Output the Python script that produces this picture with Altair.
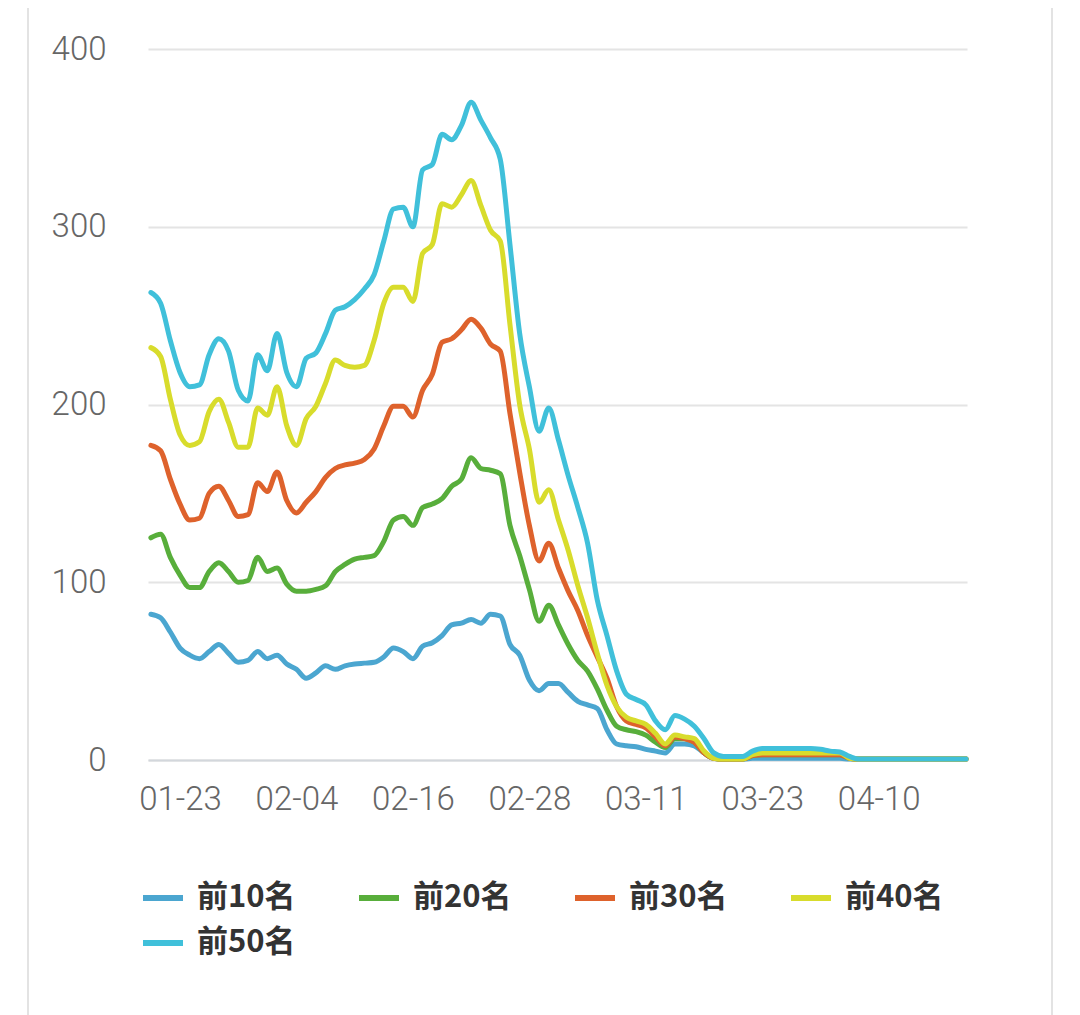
import altair as alt
import pandas as pd

series_names = ["前10名", "前20名", "前30名", "前40名", "前50名"]
series_colors = ["#4ba6d0", "#58ae3b", "#de622c", "#d8dc2c", "#40c0da"]

tick_index = [3, 15, 27, 39, 51, 63, 75]
tick_labels = ["01-23", "02-04", "02-16", "02-28", "03-11", "03-23", "04-10"]

top10 = [82, 80, 72, 63, 59, 57, 61, 65, 60, 55,
         56, 61, 57, 59, 54, 51, 46, 49, 53, 51,
         53, 54, 54.5, 55, 58, 63, 61, 57, 64, 66,
         70, 76, 77, 79, 77, 82, 81, 65, 59, 45,
         39, 43, 43, 38, 33, 31, 29, 17, 9, 8,
         7.5, 6, 5, 4, 9, 9, 8, 4, 1, 0.5,
         0.5, 0.5, 1, 1, 1, 1, 1, 1, 1, 1,
         1, 1, 0.5, 0.5, 0.5, 0.5, 0.5, 0.5, 0.5, 0.5,
         0.5, 0.5, 0.5, 0.5, 0.5]

top20 = [125, 127, 114, 104, 97, 97, 106, 111, 106, 100,
         101, 114, 106, 108, 99, 95, 95, 96, 98, 106,
         110, 113, 114, 115, 123, 135, 137, 132, 142, 144,
         147, 154, 158, 170, 164, 163, 161, 132, 115, 96,
         78, 87, 76, 65, 56, 50, 40, 28, 19, 17,
         16, 14, 10, 7, 12, 12, 10, 4, 1, 0.5,
         0.5, 0.5, 2.5, 3, 3, 3, 3, 3, 3, 3,
         3, 3, 1, 0.5, 0.5, 0.5, 0.5, 0.5, 0.5, 0.5,
         0.5, 0.5, 0.5, 0.5, 0.5]

top30 = [177, 174, 158, 144, 135, 136, 150, 154, 146, 137,
         138, 156, 151, 162, 146, 139, 145, 151, 159, 164,
         166, 167, 169, 175, 188, 199, 199, 193, 208, 217,
         235, 237, 242, 248, 243, 234, 230, 195, 162, 132,
         112, 122, 108, 95, 84, 70, 58, 46, 30, 22,
         20, 18, 13, 8, 13, 12, 10, 4, 1, 0.5,
         0.5, 0.5, 2.5, 3, 3, 3, 3, 3, 3, 3,
         3, 3, 1, 0.5, 0.5, 0.5, 0.5, 0.5, 0.5, 0.5,
         0.5, 0.5, 0.5, 0.5, 0.5]

top40 = [232, 227, 203, 183, 177, 179, 196, 203, 190, 176,
         176, 198, 194, 210, 188, 177, 192, 199, 212, 225,
         222, 221, 222, 236, 257, 266, 266, 258, 285, 290,
         313, 311, 318, 326, 312, 298, 292, 245, 200, 175,
         145, 152, 135, 118, 98, 80, 60, 42, 30, 24,
         22, 20, 15, 9, 14, 13, 12, 5, 1, 0.5,
         0.5, 0.5, 3, 4, 4, 4, 4, 4, 4, 4,
         4, 4, 1, 0.5, 0.5, 0.5, 0.5, 0.5, 0.5, 0.5,
         0.5, 0.5, 0.5, 0.5, 0.5]

top50 = [263, 257, 236, 218, 210, 211, 228, 237, 230, 208,
         202, 228, 219, 240, 218, 210, 226, 229, 240, 253,
         255, 259, 265, 273, 292, 310, 311, 300, 332, 335,
         352, 349, 357, 370, 360, 350, 338, 290, 240, 210,
         185, 198, 180, 160, 142, 122, 90, 70, 50, 37,
         34, 31, 22, 17, 25, 23, 19, 12, 4, 2,
         2, 2, 5, 6.5, 6.5, 6.5, 6.5, 6.5, 6.5, 6,
         5, 4.5, 2, 0.5, 0.5, 0.5, 0.5, 0.5, 0.5, 0.5,
         0.5, 0.5, 0.5, 0.5, 0.5]

all_series = [top10, top20, top30, top40, top50]

rows = []
for name, vals in zip(series_names, all_series):
    for i, v in enumerate(vals):
        rows.append({"idx": i, "value": v, "series": name})
df = pd.DataFrame(rows)

label_expr = (
    "[" + ",".join("'" + s + "'" for s in tick_labels) + "]"
    "[indexof([" + ",".join(str(t) for t in tick_index) + "], datum.value)]"
)

lines = alt.Chart(df).mark_line(
    interpolate="monotone", strokeWidth=5, strokeCap="round", strokeJoin="round"
).encode(
    x=alt.X(
        "idx:Q",
        scale=alt.Scale(domain=[-0.3, 84.1], nice=False, zero=False),
        axis=alt.Axis(
            values=tick_index, labelExpr=label_expr, title=None, grid=False,
            ticks=False, domain=True, domainColor="#d3d7dc", domainWidth=2,
            labelPadding=23, labelFontSize=33, labelColor="#666666",
            labelFont="Roboto", labelFontWeight=300, labelOverlap=False,
        ),
    ),
    y=alt.Y(
        "value:Q",
        scale=alt.Scale(domain=[0, 400], nice=False),
        axis=alt.Axis(
            values=[0, 100, 200, 300, 400], title=None, grid=True,
            gridColor="#e4e4e4", gridWidth=2, ticks=False, domain=False,
            labelPadding=42, labelFontSize=33, labelColor="#666666",
            labelFont="Roboto", labelFontWeight=300,
        ),
    ),
    color=alt.Color(
        "series:N",
        scale=alt.Scale(domain=series_names, range=series_colors),
        legend=alt.Legend(
            title=None, orient="none", legendX=-8, legendY=826,
            direction="horizontal", columns=4, symbolType="stroke",
            symbolSize=1600, symbolStrokeWidth=6, labelFontSize=31,
            labelFont="Noto Sans CJK SC", labelFontWeight="bold",
            labelColor="#333333", labelOffset=11, columnPadding=51,
            rowPadding=7, labelLimit=300,
        ),
    ),
)

# card frame edges (decoration, not data)
frame_df = pd.DataFrame({"edge": ["frame"]})
frame_left = alt.Chart(frame_df).mark_rule(color="#e3e3e3", strokeWidth=2).encode(
    x=alt.value(-120), y=alt.value(-49), y2=alt.value(1010)
)
frame_right = alt.Chart(frame_df).mark_rule(color="#e3e3e3", strokeWidth=2).encode(
    x=alt.value(904), y=alt.value(-49), y2=alt.value(1010)
)

chart = alt.layer(frame_left, frame_right, lines).properties(
    width=819, height=711,
    padding={"left": 140, "top": 41, "right": 105, "bottom": 260},
    autosize=alt.AutoSizeParams(type="none"),
    background="white",
).configure_view(stroke=None)

chart.save("out.html", embed_options={"renderer": "svg", "actions": False})
